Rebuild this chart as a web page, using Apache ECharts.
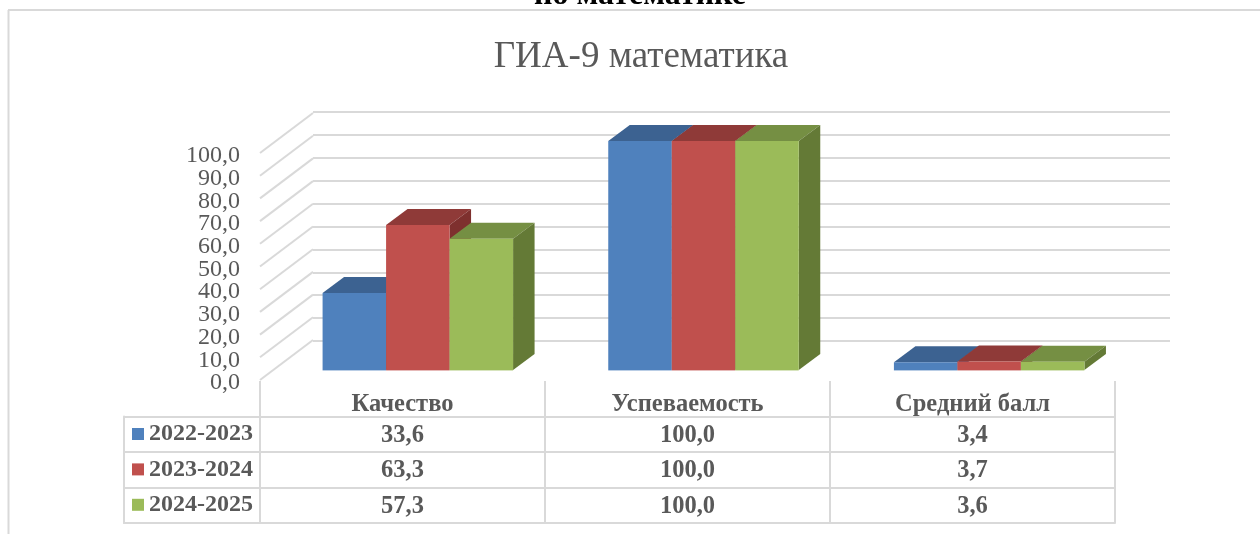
<!DOCTYPE html>
<html>
<head>
<meta charset="utf-8">
<title>ГИА-9 математика</title>
<style>
html, body { margin: 0; padding: 0; background: #fff; }
#chart { width: 1260px; height: 534px; }
</style>
<script src="https://cdn.jsdelivr.net/npm/echarts@6/dist/echarts.min.js"></script>
</head>
<body>
<div id="chart"></div>
<script>
const categories = ['Качество', 'Успеваемость', 'Средний балл'];
const seasons = ['2022-2023', '2023-2024', '2024-2025'];
const values2022 = [33.6, 100.0, 3.4];
const values2023 = [63.3, 100.0, 3.7];
const values2024 = [57.3, 100.0, 3.6];
const yTicks = [0, 10, 20, 30, 40, 50, 60, 70, 80, 90, 100];

const seriesValues = [values2022, values2023, values2024];
const frontColors = ['#4f81bd', '#c0504d', '#9bbb59'];
const topColors = ['#3c6291', '#8f3a38', '#758f43'];
const sideColors = ['#335480', '#7e302e', '#647a36'];

const gridColor = '#d9d9d9';
const textColor = '#595959';
const fontFamily = '"Liberation Serif", serif';
const barWidth = 63.5;
const depthX = 21.5;
const depthY = 16;

const fmt = v => v.toFixed(1).replace('.', ',');

const poly = (points, fill) => ({ type: 'polygon', shape: { points }, style: { fill } });

// one cuboid per value: back faces first, front last
const renderBar = idx => (params, api) => {
  const base = api.coord([api.value(0), 0]);
  const top = api.coord([api.value(0), api.value(1)]);
  const x0 = base[0] - 1.5 * barWidth + idx * barWidth;
  const x1 = x0 + barWidth;
  return {
    type: 'group',
    children: [
      poly([[x0, top[1]], [x0 + depthX, top[1] - depthY], [x1 + depthX, top[1] - depthY], [x1, top[1]]], topColors[idx]),
      poly([[x1, top[1]], [x1 + depthX, top[1] - depthY], [x1 + depthX, base[1] - depthY], [x1, base[1]]], sideColors[idx]),
      { type: 'rect', shape: { x: x0, y: top[1], width: barWidth, height: base[1] - top[1] }, style: { fill: frontColors[idx] } },
      { type: 'rect', shape: { x: x0, y: base[1], width: barWidth, height: 1 }, style: { fill: frontColors[idx], opacity: 0.4 } }
    ]
  };
};

const barSeries = seasons.map((name, idx) => ({
  name,
  type: 'custom',
  xAxisIndex: 0,
  yAxisIndex: 0,
  renderItem: renderBar(idx),
  encode: { x: 0, y: 1 },
  itemStyle: { color: frontColors[idx] },
  data: seriesValues[idx].map((v, i) => [i, v]),
  z: 5 + idx
}));

// left wall: diagonal line and tick label for every tick
// (axis labels sit closer than the axis allows, it drops some of them)
const wallSeries = {
  type: 'custom',
  xAxisIndex: 2,
  yAxisIndex: 2,
  silent: true,
  renderItem: (params, api) => {
    const a = api.coord([0, api.value(0)]);
    const b = api.coord([1, api.value(0)]);
    return {
      type: 'group',
      children: [
        {
          type: 'line',
          shape: { x1: a[0], y1: a[1], x2: b[0], y2: a[1] - 40 },
          style: { stroke: gridColor, lineWidth: 2 }
        },
        {
          type: 'text',
          x: a[0] - 20,
          y: a[1] + 3,
          style: {
            text: fmt(api.value(0)),
            align: 'right',
            verticalAlign: 'middle',
            fontFamily,
            fontSize: 24,
            fill: textColor
          }
        }
      ]
    };
  },
  encode: { y: 0 },
  data: yTicks.map(v => [v])
};

const headerCells = categories.map((name, i) => [i, 0, name]);
const valueCells = [];
seriesValues.forEach((vals, r) => {
  vals.forEach((v, i) => valueCells.push([i, r + 1, fmt(v)]));
});

const tableText = (data, offsetY) => ({
  type: 'scatter',
  xAxisIndex: 3,
  yAxisIndex: 3,
  silent: true,
  symbolSize: 1,
  itemStyle: { color: 'transparent', opacity: 1 },
  label: {
    show: true,
    position: 'inside',
    formatter: p => p.value[2],
    fontFamily,
    fontSize: 24.5,
    fontWeight: 'bold',
    color: textColor
  },
  labelLayout: { hideOverlap: false, dy: offsetY },
  data
});

const hiddenAxis = { show: false };
const cellLine = { show: true, lineStyle: { color: gridColor, width: 2 } };

const chart = echarts.init(document.getElementById('chart'), null, { renderer: 'canvas' });
chart.setOption({
  animation: false,
  backgroundColor: '#fff',
  title: {
    text: 'ГИА-9 математика',
    left: 636,
    top: 34,
    textAlign: 'center',
    textStyle: { fontFamily, fontSize: 37, fontWeight: 'normal', color: textColor }
  },
  legend: {
    orient: 'vertical',
    left: 132,
    top: 422,
    data: seasons,
    icon: 'rect',
    itemWidth: 12,
    itemHeight: 12,
    itemGap: 11.4,
    selectedMode: false,
    padding: 0,
    textStyle: { fontFamily, fontSize: 24, fontWeight: 'bold', color: textColor }
  },
  grid: [
    { left: 275, width: 857, top: 141, height: 229 },
    { left: 313, width: 857, top: 112, height: 229 },
    { left: 260, width: 53, top: 153, height: 227 },
    { left: 260, width: 855, top: 381, height: 142 },
    { left: 124, width: 136, top: 416.5, height: 106.5 }
  ],
  xAxis: [
    { type: 'category', gridIndex: 0, data: categories, show: false },
    { type: 'category', gridIndex: 1, data: categories, show: false },
    { type: 'value', gridIndex: 2, min: 0, max: 1, show: false },
    {
      type: 'category',
      gridIndex: 3,
      data: categories,
      axisLine: { show: true, lineStyle: { color: gridColor, width: 2 } },
      axisTick: hiddenAxis,
      axisLabel: hiddenAxis,
      splitLine: cellLine
    },
    {
      type: 'category',
      gridIndex: 4,
      data: [''],
      axisLine: { show: true, lineStyle: { color: gridColor, width: 2 } },
      axisTick: hiddenAxis,
      axisLabel: hiddenAxis,
      splitLine: cellLine
    }
  ],
  yAxis: [
    { type: 'value', gridIndex: 0, min: 0, max: 100, show: false },
    {
      type: 'value',
      gridIndex: 1,
      min: 0,
      max: 100,
      interval: 10,
      axisLine: hiddenAxis,
      axisTick: hiddenAxis,
      axisLabel: hiddenAxis,
      splitLine: cellLine
    },
    { type: 'value', gridIndex: 2, min: 0, max: 100, interval: 10, show: false },
    {
      type: 'category',
      gridIndex: 3,
      inverse: true,
      data: [''].concat(seasons),
      axisLine: hiddenAxis,
      axisTick: hiddenAxis,
      axisLabel: hiddenAxis,
      splitLine: { show: true, showMinLine: false, lineStyle: { color: gridColor, width: 2 } }
    },
    {
      type: 'category',
      gridIndex: 4,
      inverse: true,
      data: seasons,
      axisLine: { show: true, lineStyle: { color: gridColor, width: 2 } },
      axisTick: hiddenAxis,
      axisLabel: hiddenAxis,
      splitLine: cellLine
    }
  ],
  graphic: [
    // frame of the chart area, open at right and bottom as in the page crop
    { type: 'line', shape: { x1: 8, y1: 10, x2: 1260, y2: 10 }, style: { stroke: gridColor, lineWidth: 2 } },
    { type: 'line', shape: { x1: 8.5, y1: 10, x2: 8.5, y2: 534 }, style: { stroke: gridColor, lineWidth: 2 } },
    // heading of the document, cut by the top of the page
    {
      type: 'text',
      x: 640,
      y: 12,
      style: {
        text: 'по математике',
        align: 'center',
        verticalAlign: 'bottom',
        fontFamily,
        fontSize: 32,
        fontWeight: 'bold',
        fill: '#000'
      }
    }
  ],
  series: [wallSeries].concat(barSeries, [tableText(headerCells, 6), tableText(valueCells, 1)])
});
</script>
</body>
</html>
